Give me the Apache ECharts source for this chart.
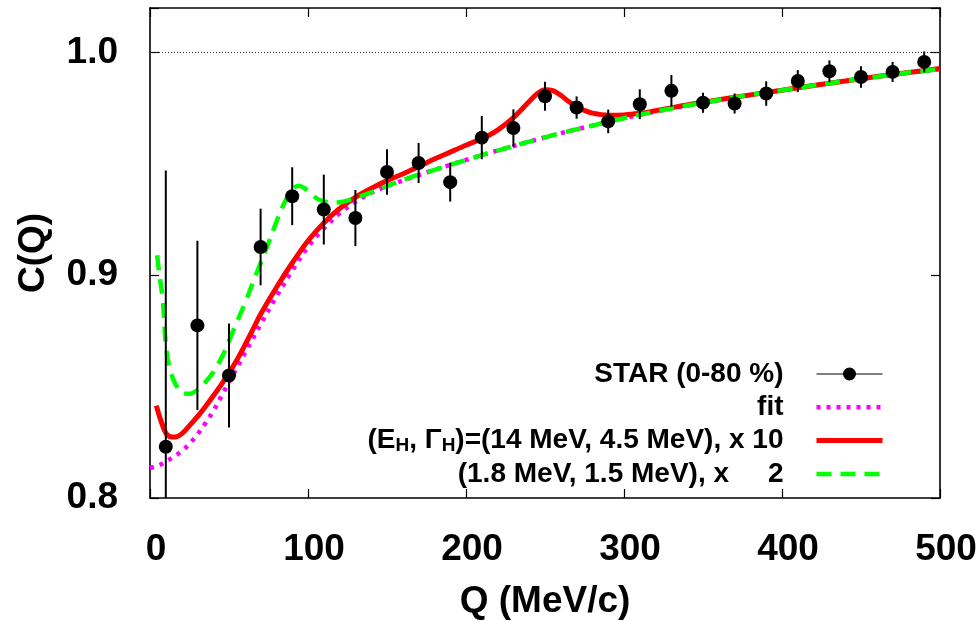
<!DOCTYPE html>
<html>
<head>
<meta charset="utf-8">
<script src="https://cdn.jsdelivr.net/npm/echarts@6/dist/echarts.min.js"></script>
<style>html,body{margin:0;padding:0;background:#fff;}#c{width:978px;height:621px;}</style>
</head>
<body>
<div id="c"></div>
<script>
// STAR data points (0-80 %)
const qData = [10,30,50,70,90,110,130,150,170,190,210,230,250,270,290,310,330,350,370,390,410,430,450,470,490];
const cData = [0.823,0.8775,0.855,0.9127,0.9355,0.9295,0.9257,0.9464,0.9504,0.9418,0.9618,0.9661,0.9804,0.9753,0.9691,0.9768,0.9828,0.9775,0.9771,0.9816,0.9872,0.9916,0.989,0.9913,0.9958];
const errData = [0.124,0.038,0.0233,0.0172,0.013,0.0157,0.0126,0.0102,0.009,0.0087,0.0097,0.0084,0.0065,0.005,0.0053,0.0067,0.0071,0.0045,0.0045,0.0055,0.0049,0.0049,0.0048,0.0045,0.0047];

// fit curve
const fitQ = [0,5,10,15,20,25,30,35,40,45,50,55,60,65,70,80,90,100,110,120,130,140,150,160,170,180,190,200,210,220,240,260,280,300,320,340,360,380,400,420,440,460,480,500];
const fitC = [0.8135,0.8145,0.8163,0.8185,0.821,0.8243,0.8285,0.8335,0.839,0.8455,0.852,0.8585,0.865,0.8715,0.878,0.8905,0.902,0.9128,0.921,0.9278,0.933,0.937,0.94,0.9425,0.945,0.9473,0.9496,0.9518,0.954,0.956,0.96,0.9638,0.9672,0.9705,0.9735,0.9762,0.9787,0.981,0.9831,0.9852,0.9872,0.9891,0.991,0.9926];

// (E_H, Gamma_H) = (14 MeV, 4.5 MeV), x 10
const redQ = [4,7,10,13,16,20,25,30,35,40,45,50,55,60,65,70,80,90,100,110,120,130,140,150,160,170,180,190,200,210,220,230,240,245,250,255,260,265,270,275,280,290,300,310,320,340,360,380,400,420,440,460,480,500];
const redC = [0.8415,0.8345,0.8292,0.8275,0.8274,0.8288,0.8325,0.8365,0.841,0.8458,0.8508,0.8562,0.862,0.8685,0.8755,0.8825,0.8945,0.9055,0.9155,0.9235,0.93,0.935,0.939,0.9425,0.9455,0.9488,0.9522,0.9553,0.9584,0.9613,0.9652,0.9708,0.978,0.9815,0.9833,0.9829,0.9808,0.978,0.9757,0.974,0.9728,0.9719,0.972,0.9727,0.9739,0.9765,0.9788,0.981,0.9831,0.9852,0.9872,0.9892,0.991,0.9928];

// (1.8 MeV, 1.5 MeV), x 2
const greenQ = [4.5,6,8,10,12,15,18,21,25,30,35,40,45,50,55,61,65,70,75,80,85,90,94,98,102,106,110,116,122,130,140,150,160,170,180,200,220,240,260,280,300,320,340,360,380,400,420,440,460,480,500];
const greenC = [0.909,0.9,0.8895,0.869,0.8595,0.8528,0.849,0.8469,0.8468,0.8485,0.852,0.8565,0.8625,0.8705,0.879,0.889,0.8965,0.9055,0.9145,0.924,0.9325,0.9385,0.9402,0.939,0.9365,0.9343,0.9332,0.9326,0.933,0.9347,0.9372,0.94,0.9428,0.9452,0.9473,0.9518,0.956,0.96,0.9638,0.9672,0.9705,0.9735,0.9762,0.9787,0.981,0.9831,0.9852,0.9872,0.9891,0.991,0.9926];

// axis ticks
const xTicks = [0,100,200,300,400,500];
const yTicks = [0.8,0.9,1.0];

const names = ['STAR (0-80 %)', 'fit', '(EH, ΓH)=(14 MeV, 4.5 MeV), x 10', '(1.8 MeV, 1.5 MeV), x     2'];

const FONT = '"Liberation Sans", Arial, Helvetica, sans-serif';
const zip = (a, b) => a.map((v, i) => [v, b[i]]);

const chart = echarts.init(document.getElementById('c'), null, {renderer: 'canvas'});

const axisCommon = {
  type: 'value',
  splitLine: {show: false},
  axisLine: {show: true, onZero: false, lineStyle: {color: '#000', width: 1.6}},
  axisTick: {show: true, inside: true, length: 9, lineStyle: {color: '#000', width: 1.2}}
};

const option = {
  animation: false,
  backgroundColor: '#fff',
  grid: {left: 150, right: 38, top: 8, bottom: 123, containLabel: false, outerBoundsMode: 'none'},
  xAxis: [
    Object.assign({}, axisCommon, {
      position: 'bottom', min: 0, max: 500, interval: 100,
      axisLabel: {show: true, fontFamily: FONT, fontWeight: 'bold', fontSize: 37, color: '#000', margin: 33, padding: [0,0,0,12],
        formatter: v => xTicks.indexOf(v) >= 0 ? String(v) : ''},
      name: 'Q (MeV/c)', nameLocation: 'middle', nameGap: 85,
      nameTextStyle: {fontFamily: FONT, fontWeight: 'bold', fontSize: 37, color: '#000'}
    }),
    Object.assign({}, axisCommon, {
      position: 'top', min: 0, max: 500, interval: 100,
      axisLabel: {show: false}
    })
  ],
  yAxis: [
    Object.assign({}, axisCommon, {
      position: 'left', min: 0.8, max: 1.02, interval: 0.1,
      axisLabel: {show: true, fontFamily: FONT, fontWeight: 'bold', fontSize: 37, color: '#000', margin: 32,
        formatter: v => {
          const t = yTicks.find(y => Math.abs(y - v) < 1e-6);
          return t !== undefined ? t.toFixed(1) : '';
        }},
      name: 'C(Q)', nameLocation: 'middle', nameGap: 98,
      nameTextStyle: {fontFamily: FONT, fontWeight: 'bold', fontSize: 37, color: '#000'}
    }),
    Object.assign({}, axisCommon, {
      position: 'right', min: 0.8, max: 1.02, interval: 0.1,
      axisLabel: {show: false}
    })
  ],
  legend: {
    orient: 'vertical',
    align: 'right',
    right: 93,
    top: 359,
    padding: 0,
    itemGap: 3.3,
    itemWidth: 66,
    itemHeight: 14,
    lineStyle: {width: 'inherit'},
    itemStyle: {color: 'rgba(0,0,0,0)', borderWidth: 0},
    textStyle: {
      fontFamily: FONT, fontWeight: 'bold', fontSize: 28, color: '#000', lineHeight: 30,
      padding: [0, 28, 0, 0],
      rich: {
        sub: {fontFamily: FONT, fontWeight: 'bold', fontSize: 19, color: '#000', lineHeight: 17, verticalAlign: 'bottom'}
      }
    },
    formatter: function (name) {
      if (name === names[2]) return '(E{sub|H}, Γ{sub|H})=(14 MeV, 4.5 MeV), x 10';
      return name;
    },
    data: [
      {name: names[0], itemStyle: {color: '#000', opacity: 1},
       icon: 'path://M0,6.4 L66,6.4 L66,7.6 L0,7.6 Z M26.5,7 A6.5,6.5 0 1,1 39.5,7 A6.5,6.5 0 1,1 26.5,7 Z M0,0 L0.01,0 L0.01,0.01 Z M66,14 L65.99,14 L65.99,13.99 Z'},
      {name: names[1]},
      {name: names[2]},
      {name: names[3]}
    ]
  },
  series: [
    {
      name: names[1], type: 'line', data: zip(fitQ, fitC), symbol: 'none', smooth: 0.35, z: 2,
      lineStyle: {color: '#ff00ff', width: 4.5, type: [4, 6]}, itemStyle: {color: '#ff00ff'},
      markLine: {
        silent: true, symbol: ['none', 'none'], label: {show: false},
        lineStyle: {color: '#333', width: 1, type: [1, 2]},
        data: [{yAxis: 1.0}]
      }
    },
    {
      name: names[2], type: 'line', data: zip(redQ, redC), symbol: 'none', smooth: 0.35, z: 3,
      lineStyle: {color: '#ff0000', width: 5, type: 'solid'}, itemStyle: {color: '#ff0000'}
    },
    {
      name: names[3], type: 'line', data: zip(greenQ, greenC), symbol: 'none', smooth: 0.35, z: 4,
      lineStyle: {color: '#00ff00', width: 4.5, type: [15, 9]}, itemStyle: {color: '#00ff00'}
    },
    {
      name: 'errors', type: 'custom', z: 5,
      data: qData.map((q, i) => [q, cData[i], errData[i]]),
      encode: {x: 0, y: 1},
      renderItem: function (params, api) {
        const q = api.value(0), c = api.value(1), e = api.value(2);
        const hi = Math.min(c + e, 1.02), lo = Math.max(c - e, 0.8);
        const p1 = api.coord([q, hi]), p2 = api.coord([q, lo]);
        return {type: 'line', shape: {x1: p1[0], y1: p1[1], x2: p2[0], y2: p2[1]}, style: {stroke: '#000', lineWidth: 2}};
      }
    },
    {
      name: names[0], type: 'scatter', data: zip(qData, cData), symbol: 'circle', symbolSize: 14, z: 6,
      itemStyle: {color: '#000', opacity: 1}
    }
  ]
};
chart.setOption(option);
</script>
</body>
</html>
